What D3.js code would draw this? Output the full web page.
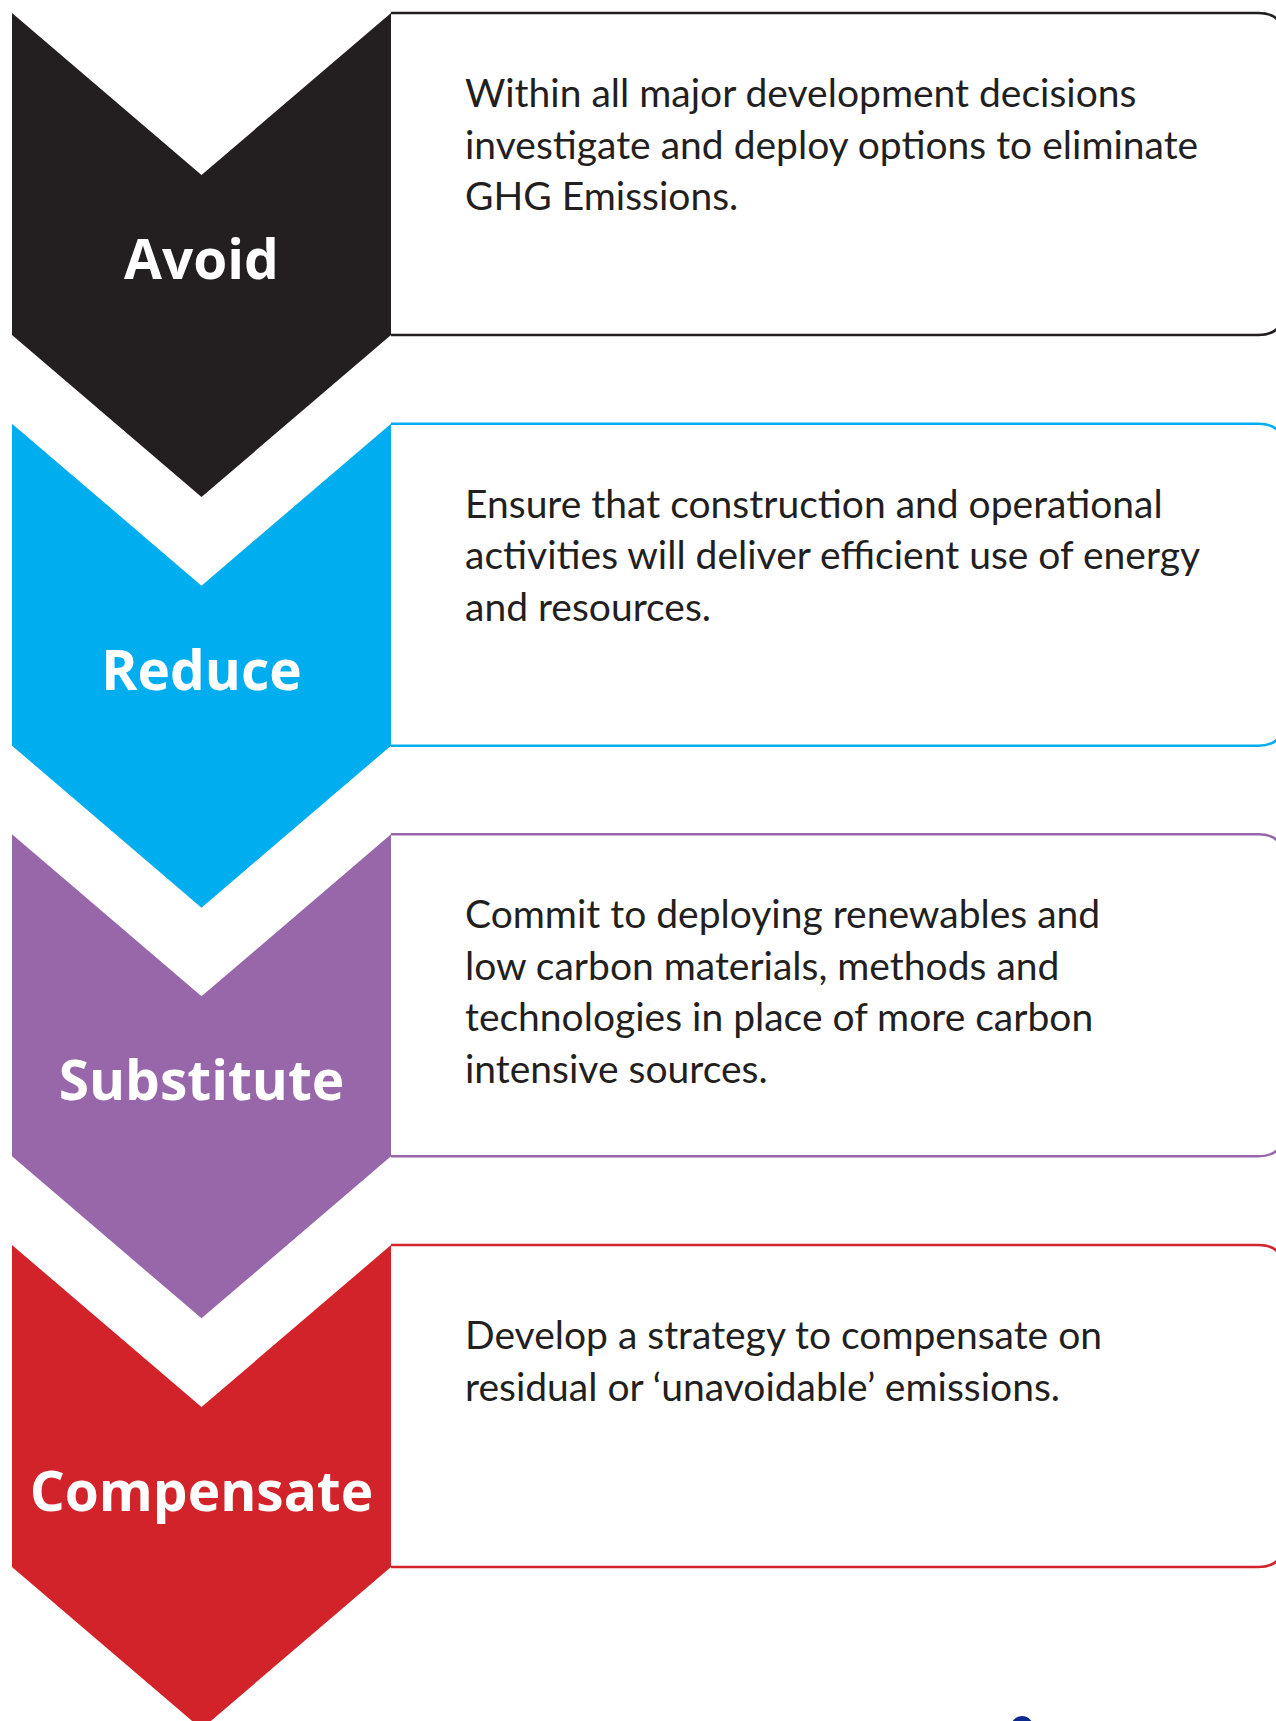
<!DOCTYPE html>
<html>
<head>
<meta charset="utf-8">
<script src="https://cdn.jsdelivr.net/npm/d3@7"></script>
<style>
  body { margin: 0; background: #fff; }
  svg { display: block; }
</style>
</head>
<body>
<div id="chart"></div>
<script>
// steps of the hierarchy, top to bottom
var steps = ["Avoid", "Reduce", "Substitute", "Compensate"];
var stepColors = ["#231f20", "#00aeef", "#9767aa", "#d2232a"];
var stepText = [
  ["Within all major development decisions", "investigate and deploy options to eliminate", "GHG Emissions."],
  ["Ensure that construction and operational", "activities will deliver efficient use of energy", "and resources."],
  ["Commit to deploying renewables and", "low carbon materials, methods and", "technologies in place of more carbon", "intensive sources."],
  ["Develop a strategy to compensate on", "residual or \u2018unavoidable\u2019 emissions."]
];

var width = 1276, height = 1721;

var svg = d3.select("#chart").append("svg")
    .attr("width", width)
    .attr("height", height);

// vertical position of each step
var y = d3.scalePoint()
    .domain(steps)
    .range([13, 1245]);

// horizontal layout of chevron + box
var x = d3.scaleLinear()
    .domain([0, 1])
    .range([12, 391]);

var chevH = 322, notch = 162, boxRight = 1284, r = 26;

function chevron(top) {
  var mid = (x(0) + x(1)) / 2;
  return "M" + x(0) + "," + top +
    "L" + mid + "," + (top + notch) +
    "L" + x(1) + "," + top +
    "L" + x(1) + "," + (top + chevH) +
    "L" + mid + "," + (top + chevH + notch) +
    "L" + x(0) + "," + (top + chevH) + "Z";
}

function box(top) {
  var b = top + chevH;
  return "M" + x(1) + "," + top +
    "L" + (boxRight - r) + "," + top +
    "Q" + boxRight + "," + top + " " + boxRight + "," + (top + r) +
    "L" + boxRight + "," + (b - r) +
    "Q" + boxRight + "," + b + " " + (boxRight - r) + "," + b +
    "L" + x(1) + "," + b;
}

var g = svg.selectAll("g.step")
    .data(steps)
  .enter().append("g")
    .attr("class", "step");

g.append("path")
    .attr("d", function(d) { return box(y(d)); })
    .attr("fill", "#fff")
    .attr("stroke", function(d, i) { return stepColors[i]; })
    .attr("stroke-width", 2.5);

g.append("path")
    .attr("d", function(d) { return chevron(y(d)); })
    .attr("fill", function(d, i) { return stepColors[i]; });

g.append("text")
    .attr("x", (x(0) + x(1)) / 2)
    .attr("y", function(d) { return y(d) + 266; })
    .attr("text-anchor", "middle")
    .style("font-family", "'Open Sans', sans-serif")
    .style("font-weight", "bold")
    .style("font-size", "55px")
    .style("fill", "#fff")
    .text(function(d) { return d; });

g.append("text")
    .attr("y", function(d, i) { return y(d) + (i === 3 ? 104 : 94); })
    .style("font-family", "Lato, sans-serif")
    .style("font-size", "39px")
    .style("fill", "#231f20")
    .selectAll("tspan")
    .data(function(d, i) { return stepText[i]; })
  .enter().append("tspan")
    .attr("x", 465)
    .attr("dy", function(d, i) { return i ? 51.5 : 0; })
    .text(function(d) { return d; });

// fragment of a logo at the bottom edge
svg.append("circle")
    .attr("cx", 1022)
    .attr("cy", 1727)
    .attr("r", 11)
    .attr("fill", "#0d2b8e");
</script>
</body>
</html>
